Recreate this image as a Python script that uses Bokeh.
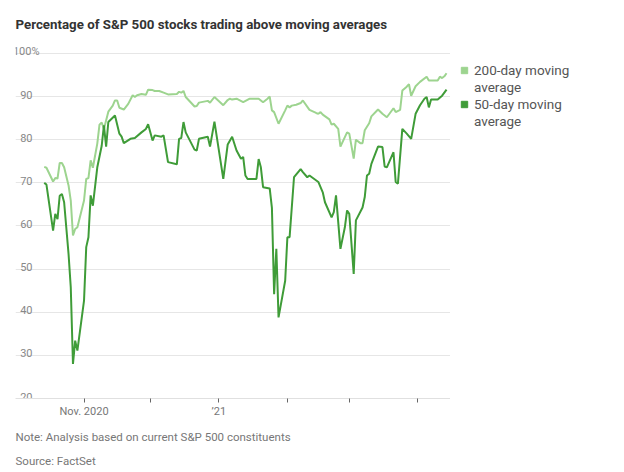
import pandas as pd
from bokeh.plotting import figure
from bokeh.layouts import row
from bokeh.models import Range1d, FixedTicker, Title, Legend, LegendItem, ColumnDataSource
from bokeh.core.properties import value
from bokeh.embed import file_html
from bokeh.resources import INLINE

TITLE = "Percentage of S&P 500 stocks trading above moving averages"
NOTE = "Note: Analysis based on current S&P 500 constituents"
SOURCE = "Source: FactSet"
series_names = ["200-day moving average", "50-day moving average"]

dates_200 = [
    "2020-10-14", "2020-10-15", "2020-10-18", "2020-10-19", "2020-10-20", "2020-10-21", "2020-10-22",
    "2020-10-23", "2020-10-25", "2020-10-26", "2020-10-27", "2020-10-28", "2020-10-29", "2020-11-01",
    "2020-11-02", "2020-11-03", "2020-11-04", "2020-11-05", "2020-11-07", "2020-11-08", "2020-11-09",
    "2020-11-10", "2020-11-12", "2020-11-14", "2020-11-15", "2020-11-16", "2020-11-17", "2020-11-19",
    "2020-11-21", "2020-11-23", "2020-11-24", "2020-11-25", "2020-11-27", "2020-11-29", "2020-11-30",
    "2020-12-02", "2020-12-03", "2020-12-05", "2020-12-07", "2020-12-09", "2020-12-13", "2020-12-14",
    "2020-12-15", "2020-12-16", "2020-12-17", "2020-12-21", "2020-12-22", "2020-12-23", "2020-12-27",
    "2020-12-28", "2020-12-30", "2021-01-03", "2021-01-05", "2021-01-06", "2021-01-07", "2021-01-09",
    "2021-01-12", "2021-01-15", "2021-01-19", "2021-01-21", "2021-01-23", "2021-01-24", "2021-01-25",
    "2021-01-26", "2021-01-28", "2021-01-31", "2021-02-01", "2021-02-02", "2021-02-03", "2021-02-05",
    "2021-02-07", "2021-02-08", "2021-02-11", "2021-02-14", "2021-02-15", "2021-02-16", "2021-02-17",
    "2021-02-20", "2021-02-21", "2021-02-22", "2021-02-24", "2021-02-25", "2021-02-28", "2021-03-01",
    "2021-03-03", "2021-03-04", "2021-03-06", "2021-03-07", "2021-03-08", "2021-03-10", "2021-03-11",
    "2021-03-14", "2021-03-16", "2021-03-18", "2021-03-21", "2021-03-22", "2021-03-24", "2021-03-25",
    "2021-03-27", "2021-03-28", "2021-03-29", "2021-03-31", "2021-04-02", "2021-04-05", "2021-04-06",
    "2021-04-10", "2021-04-11", "2021-04-12", "2021-04-13", "2021-04-14",
]
values_200 = [
    73.7, 73.5, 70.3, 71.1, 71.0, 74.6, 74.6,
    73.6, 69.4, 65.9, 57.8, 59.3, 59.7, 65.9,
    70.9, 71.1, 75.2, 73.5, 79.1, 83.5, 84.0,
    82.5, 86.5, 87.9, 89.1, 89.1, 87.4, 87.0,
    88.3, 90.3, 89.9, 90.3, 90.6, 90.4, 91.6,
    91.5, 91.3, 91.3, 90.9, 90.5, 90.6, 91.1,
    90.9, 91.3, 89.9, 87.7, 87.8, 88.6, 89.0,
    88.6, 89.9, 88.0, 89.2, 89.5, 89.3, 89.5,
    88.7, 89.5, 89.5, 88.7, 89.5, 90.0, 86.8,
    86.4, 83.7, 86.8, 87.9, 87.5, 87.9, 88.1,
    88.5, 89.1, 86.9, 86.2, 86.0, 86.4, 85.8,
    84.7, 83.5, 83.7, 82.5, 78.4, 81.7, 81.4,
    75.6, 80.0, 79.2, 79.2, 82.2, 83.8, 85.4,
    87.0, 86.0, 85.2, 87.3, 86.4, 86.9, 91.4,
    92.3, 92.9, 90.2, 92.4, 93.4, 94.6, 93.7,
    93.7, 94.6, 94.3, 94.7, 95.4,
]

dates_50 = [
    "2020-10-14", "2020-10-15", "2020-10-18", "2020-10-19", "2020-10-20", "2020-10-21", "2020-10-22",
    "2020-10-23", "2020-10-25", "2020-10-26", "2020-10-27", "2020-10-28", "2020-10-29", "2020-11-01",
    "2020-11-02", "2020-11-03", "2020-11-04", "2020-11-05", "2020-11-07", "2020-11-09", "2020-11-10",
    "2020-11-11", "2020-11-12", "2020-11-15", "2020-11-17", "2020-11-18", "2020-11-19", "2020-11-22",
    "2020-11-24", "2020-11-27", "2020-11-29", "2020-11-30", "2020-12-02", "2020-12-03", "2020-12-06",
    "2020-12-07", "2020-12-09", "2020-12-13", "2020-12-14", "2020-12-15", "2020-12-16", "2020-12-17",
    "2020-12-21", "2020-12-22", "2020-12-23", "2020-12-27", "2020-12-28", "2020-12-30", "2021-01-03",
    "2021-01-05", "2021-01-07", "2021-01-09", "2021-01-11", "2021-01-12", "2021-01-13", "2021-01-14",
    "2021-01-18", "2021-01-19", "2021-01-20", "2021-01-21", "2021-01-24", "2021-01-25", "2021-01-26",
    "2021-01-27", "2021-01-28", "2021-01-31", "2021-02-01", "2021-02-02", "2021-02-04", "2021-02-07",
    "2021-02-08", "2021-02-10", "2021-02-11", "2021-02-15", "2021-02-17", "2021-02-18", "2021-02-21",
    "2021-02-22", "2021-02-23", "2021-02-25", "2021-02-27", "2021-02-28", "2021-03-01", "2021-03-03",
    "2021-03-04", "2021-03-07", "2021-03-08", "2021-03-09", "2021-03-10", "2021-03-11", "2021-03-14",
    "2021-03-16", "2021-03-17", "2021-03-18", "2021-03-21", "2021-03-22", "2021-03-23", "2021-03-25",
    "2021-03-27", "2021-03-29", "2021-03-31", "2021-04-02", "2021-04-04", "2021-04-05", "2021-04-06",
    "2021-04-07", "2021-04-10", "2021-04-12", "2021-04-14",
]
values_50 = [
    70.0, 69.6, 58.9, 62.8, 61.6, 67.0, 67.4,
    65.5, 53.5, 45.8, 28.0, 33.4, 31.1, 42.7,
    55.1, 57.4, 67.1, 64.7, 73.6, 78.6, 83.3,
    78.4, 84.1, 85.6, 81.4, 80.7, 79.2, 80.2,
    80.4, 81.7, 82.5, 83.6, 79.8, 81.0, 80.7,
    81.0, 74.8, 74.3, 80.2, 80.4, 84.1, 81.7,
    77.7, 77.5, 80.2, 80.7, 78.4, 84.2, 70.9,
    78.9, 80.7, 77.5, 75.6, 76.0, 71.7, 70.9,
    70.9, 75.5, 73.6, 69.0, 68.7, 64.2, 44.2,
    54.7, 38.8, 47.3, 57.4, 57.4, 71.3, 73.2,
    72.5, 71.3, 71.7, 70.2, 67.8, 65.5, 62.0,
    63.2, 67.1, 54.7, 59.7, 63.6, 62.8, 48.9,
    61.3, 64.3, 66.7, 71.7, 72.1, 74.4, 78.4,
    78.3, 73.8, 73.6, 77.1, 70.2, 69.8, 82.5,
    81.4, 80.2, 86.0, 88.0, 89.5, 89.9, 87.5,
    89.3, 89.3, 90.2, 91.6,
]

y_ticks = [20, 30, 40, 50, 60, 70, 80, 90, 100]
y_tick_labels = ["20", "30", "40", "50", "60", "70", "80", "90", "100%"]
x_tick_dates = ["2020-11-01", "2020-12-01", "2021-01-01", "2021-02-01", "2021-03-01", "2021-04-01"]
x_tick_labels = ["Nov. 2020", "", "\u201921", "", "", ""]

LIGHT = "#9dd48f"
DARK = "#3f9c38"
FONT = "Roboto"

x_start = pd.Timestamp("2020-10-01")
x_end = pd.Timestamp("2021-04-15 19:00")

p = figure(width=450, height=472, output_backend="svg", toolbar_location=None,
           x_axis_type="datetime",
           x_range=Range1d(x_start, x_end), y_range=Range1d(20, 103),
           min_border_left=15, min_border_right=0, min_border_top=40, min_border_bottom=74,
           title=TITLE)
p.outline_line_color = None
p.background_fill_color = "white"
p.border_fill_color = "white"

p.title.text_font = FONT
p.title.text_font_size = "13.3px"
p.title.text_font_style = "bold"
p.title.text_color = "#333333"
p.title.align = "left"
p.title.offset = 0
p.title.standoff = 17

p.yaxis.visible = False
p.xgrid.visible = False
p.ygrid.ticker = FixedTicker(ticks=y_ticks)
p.ygrid.grid_line_color = "#e6e6e6"
p.ygrid.grid_line_width = 1

tick_ms = [int(pd.Timestamp(d).value // 10**6) for d in x_tick_dates]
p.xaxis.ticker = FixedTicker(ticks=tick_ms)
p.xaxis.major_label_overrides = {t: lab for t, lab in zip(tick_ms, x_tick_labels)}
p.xaxis.axis_line_color = "#e0e0e0"
p.xaxis.major_tick_in = 0
p.xaxis.major_tick_out = 4
p.xaxis.major_tick_line_color = "#666666"
p.xaxis.minor_tick_line_color = None
p.xaxis.major_label_text_font = FONT
p.xaxis.major_label_text_font_size = "11px"
p.xaxis.major_label_text_color = "#777777"
p.xaxis.major_label_standoff = 2

# y tick labels sitting on top of the gridlines
lab_src = ColumnDataSource(dict(
    x=[x_start] * len(y_ticks), y=y_ticks, text=y_tick_labels,
    dx=[24 if lab.endswith("%") else 17 for lab in y_tick_labels]))
p.text(x="x", y="y", text="text", x_offset="dx", y_offset=-2, source=lab_src,
       text_align="right", text_baseline="alphabetic", text_font=value(FONT),
       text_font_size="11px", text_color="#888888")

src200 = ColumnDataSource(dict(x=pd.to_datetime(dates_200), y=values_200))
src50 = ColumnDataSource(dict(x=pd.to_datetime(dates_50), y=values_50))
p.line("x", "y", source=src200, line_color=LIGHT, line_width=2)
p.line("x", "y", source=src50, line_color=DARK, line_width=2)

p.add_layout(Title(text=NOTE, align="left", text_font=FONT, text_font_size="11.5px",
                   text_font_style="normal", text_color="#777777", offset=0, standoff=15), "below")
p.add_layout(Title(text=SOURCE, align="left", text_font=FONT, text_font_size="11.5px",
                   text_font_style="normal", text_color="#777777", offset=0, standoff=0), "below")

# legend panel to the right of the chart (legend swatches use an off-range dummy point)
lg = figure(width=174, height=472, output_backend="svg", toolbar_location=None,
            x_range=Range1d(0, 1), y_range=Range1d(0, 1),
            min_border_left=0, min_border_right=0, min_border_top=0, min_border_bottom=0)
lg.axis.visible = False
lg.grid.visible = False
lg.outline_line_color = None
lg.background_fill_color = "white"
lg.border_fill_color = "white"

sq200 = lg.scatter(x=[-5], y=[-5], marker="square", fill_color=LIGHT, line_color=LIGHT)
sq50 = lg.scatter(x=[-5], y=[-5], marker="square", fill_color=DARK, line_color=DARK)
blank = lg.scatter(x=[-5], y=[-5], marker="square", fill_alpha=0, line_alpha=0)
items = []
for name, r in zip(series_names, [sq200, sq50]):
    first, second = name.rsplit(" ", 1)
    items.append(LegendItem(label=first, renderers=[r]))
    items.append(LegendItem(label=second, renderers=[blank]))
legend = Legend(items=items, location=(6, 269), border_line_color=None,
                background_fill_alpha=0, glyph_width=16, glyph_height=16,
                label_height=16, spacing=1, padding=0, margin=0, label_standoff=2,
                label_text_font=FONT, label_text_font_size="13.5px", label_text_color="#555555")
lg.add_layout(legend, "center")

layout = row(p, lg)
open("out.html", "w").write(file_html(layout, INLINE))
